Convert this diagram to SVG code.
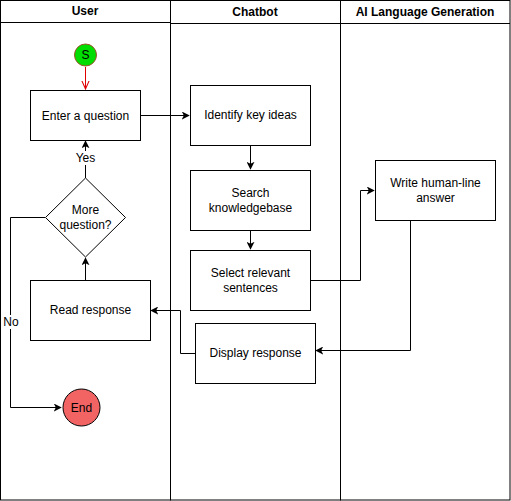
<svg xmlns="http://www.w3.org/2000/svg" width="511" height="501" viewBox="0 0 511 501">
<style>
text{font-family:"Liberation Sans",Arial,sans-serif;font-size:12px;fill:#000;text-anchor:middle;dominant-baseline:central}
.hdr{font-weight:bold}
.box{fill:#fff;stroke:#000;stroke-width:1}
.lane{fill:none;stroke:#000;stroke-width:1}
.edge{fill:none;stroke:#000;stroke-width:1}
.lbl{fill:#fff}
</style>
<defs>
<marker id="arr" viewBox="0 0 10 10" refX="9" refY="5" markerWidth="8" markerHeight="8" markerUnits="userSpaceOnUse" orient="auto">
<path d="M0,0 L10,5 L0,10 L2.5,5 Z" fill="#000"/>
</marker>
<marker id="open" viewBox="0 0 10 10" refX="9" refY="5" markerWidth="9" markerHeight="9" markerUnits="userSpaceOnUse" orient="auto">
<path d="M0,1 L9,5 L0,9" fill="none" stroke="#e00000" stroke-width="1.2"/>
</marker>
</defs>
<rect x="0" y="0" width="511" height="501" fill="#fff"/>
<g id="lanes">
<rect class="lane" x="0.5" y="0.5" width="170" height="499.5"/>
<line class="lane" x1="0.5" y1="22.5" x2="170.5" y2="22.5"/>
<text class="hdr" x="85" y="11">User</text>
<rect class="lane" x="170.5" y="0.5" width="170" height="499.5"/>
<line class="lane" x1="170.5" y1="23.5" x2="340.5" y2="23.5"/>
<text class="hdr" x="255" y="12">Chatbot</text>
<rect class="lane" x="340.5" y="0.5" width="169.5" height="499.5"/>
<line class="lane" x1="340.5" y1="23.5" x2="510" y2="23.5"/>
<text class="hdr" x="425" y="12">AI Language Generation</text>
</g>
<g id="connectors">
<line x1="85.5" y1="67" x2="85.5" y2="89" stroke="#e00000" stroke-width="1" marker-end="url(#open)"/>
<path class="edge" d="M140,115.5 H189" marker-end="url(#arr)"/>
<path class="edge" d="M250.5,145 V169" marker-end="url(#arr)"/>
<path class="edge" d="M250.5,230 V249" marker-end="url(#arr)"/>
<path class="edge" d="M310,280.5 H360.5 V190.5 H374" marker-end="url(#arr)"/>
<path class="edge" d="M410.5,220 V350.5 H316" marker-end="url(#arr)"/>
<path class="edge" d="M195,353.5 H180.5 V310.5 H151" marker-end="url(#arr)"/>
<path class="edge" d="M85.5,280 V258" marker-end="url(#arr)"/>
<path class="edge" d="M85.5,178 V141" marker-end="url(#arr)"/>
<rect class="lbl" x="74" y="151" width="23" height="14"/>
<text x="85.5" y="158">Yes</text>
<path class="edge" d="M45,217.5 H10.5 V407.5 H61" marker-end="url(#arr)"/>
<rect class="lbl" x="3" y="315" width="17" height="14"/>
<text x="11" y="322">No</text>
</g>
<g id="start">
<circle cx="85.5" cy="55" r="11" fill="#00dd00" stroke="#a0522d" stroke-width="1"/>
<text x="85.5" y="55">S</text>
</g>
<g id="enter">
<rect class="box" x="30.5" y="90.5" width="110" height="50"/>
<text x="85.5" y="115.5">Enter a question</text>
</g>
<g id="identify">
<rect class="box" x="190.5" y="85.5" width="120" height="60"/>
<text x="250.5" y="115">Identify key ideas</text>
</g>
<g id="search">
<rect class="box" x="190.5" y="170.5" width="120" height="60"/>
<text x="250.5" y="193">Search</text>
<text x="250.5" y="208">knowledgebase</text>
</g>
<g id="select">
<rect class="box" x="190.5" y="250.5" width="120" height="60"/>
<text x="250.5" y="273">Select relevant</text>
<text x="250.5" y="288">sentences</text>
</g>
<g id="write">
<rect class="box" x="375.5" y="160.5" width="120" height="60"/>
<text x="435.5" y="183">Write human-line</text>
<text x="435.5" y="198">answer</text>
</g>
<g id="display">
<rect class="box" x="195.5" y="323.5" width="120" height="60"/>
<text x="255.5" y="353">Display response</text>
</g>
<g id="read">
<rect class="box" x="30.5" y="280.5" width="120" height="60"/>
<text x="90.5" y="310">Read response</text>
</g>
<g id="decision">
<path class="box" d="M85.5,178 L125.5,217.5 L85.5,257 L45.5,217.5 Z"/>
<text x="85.5" y="210">More</text>
<text x="85.5" y="225">question?</text>
</g>
<g id="end">
<circle cx="81.5" cy="407.5" r="18.5" fill="#f26464" stroke="#000" stroke-width="1"/>
<text x="81.5" y="407.5">End</text>
</g>
</svg>
